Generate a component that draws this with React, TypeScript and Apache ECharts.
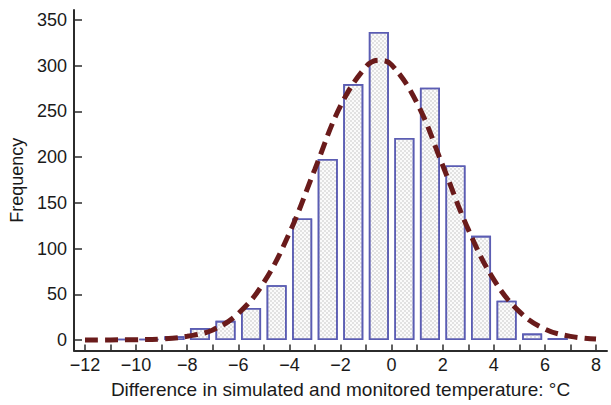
import React, { useEffect, useRef } from "react";
import * as echarts from "echarts";

// Histogram bins (bin centres, 1 °C wide) and their frequencies
const binCenters = [-10.5, -9.5, -8.5, -7.5, -6.5, -5.5, -4.5, -3.5, -2.5, -1.5, -0.5, 0.5, 1.5, 2.5, 3.5, 4.5, 5.5, 6.5];
const frequencies = [1, 1, 4, 13, 21, 35, 60, 133, 198, 280, 337, 221, 276, 191, 114, 43, 7, 2];

// Fitted curve, values
const curveX = [-12, -11, -10, -9, -8, -7, -6, -5, -4, -3, -2, -1, -0.5, 0, 1, 2, 3, 4, 5, 6, 7, 8];
const curveY = [0, 0.1, 0.3, 1, 4, 11, 29, 63, 117, 187, 256, 299, 306, 301, 259, 191, 121, 66, 31, 12, 4, 1];

const xTicks = [-12, -11, -10, -9, -8, -7, -6, -5, -4, -3, -2, -1, 0, 1, 2, 3, 4, 5, 6, 7, 8];
const xLabels = [-12, -10, -8, -6, -4, -2, 0, 2, 4, 6, 8];
const yTicks = [0, 50, 100, 150, 200, 250, 300, 350];

const xTitle = "Difference in simulated and monitored temperature: °C";
const yTitle = "Frequency";

const FONT = "'Liberation Sans', Arial, sans-serif";
const AXIS = "#2b2b2b";
const TEXT = "#1a1a1a";

export default function App() {
  const ref = useRef<HTMLDivElement>(null);
  useEffect(() => {
    if (!ref.current) return;
    const chart = echarts.init(ref.current, undefined, { renderer: "svg" });
    chart.setOption({
      animation: false,
      backgroundColor: "#ffffff",
      grid: { left: 74, right: 4, top: 10, bottom: 54.5, containLabel: false },
      xAxis: {
        type: "value",
        min: -12.43,
        max: 8.43,
        name: xTitle,
        nameLocation: "middle",
        nameGap: 29,
        nameTextStyle: { fontSize: 19, color: TEXT, fontFamily: FONT },
        axisLine: { onZero: false, lineStyle: { color: AXIS, width: 2 } },
        axisTick: { inside: true, length: 6, customValues: xTicks, lineStyle: { color: AXIS, width: 1.5 } },
        axisLabel: {
          customValues: xLabels,
          fontSize: 18,
          color: TEXT,
          fontFamily: FONT,
          margin: 5,
          formatter: (v: number) => (v < 0 ? "\u2212" + Math.abs(v) : String(v)),
        },
        splitLine: { show: false },
      },
      yAxis: {
        type: "value",
        min: -11.5,
        max: 361,
        name: yTitle,
        nameLocation: "middle",
        nameGap: 45,
        nameRotate: 90,
        nameTextStyle: { fontSize: 18, color: TEXT, fontFamily: FONT },
        axisLine: { show: true, onZero: false, lineStyle: { color: AXIS, width: 2 } },
        axisTick: { show: true, inside: true, length: 8, customValues: yTicks, lineStyle: { color: AXIS, width: 1.5 } },
        axisLabel: { customValues: yTicks, fontSize: 18, color: TEXT, fontFamily: FONT, margin: 7 },
        splitLine: { show: false },
      },
      series: [
        {
          type: "bar",
          data: binCenters.map((c, i) => [c, frequencies[i]]),
          barWidth: 20,
          itemStyle: {
            color: "#fbfbfb",
            borderColor: "#5b5db3",
            borderWidth: 1.6,
            decal: {
              symbol: "rect",
              symbolSize: 0.6,
              color: "#a8a8a8",
              dashArrayX: [[2, 2], [0, 2, 2, 0]],
              dashArrayY: [2, 0],
              rotation: 0,
            },
          },
          z: 2,
        },
        {
          type: "line",
          data: curveX.map((x, i) => [x, curveY[i]]),
          smooth: 0.4,
          symbol: "none",
          lineStyle: { color: "#6a1b1b", width: 5, type: [13, 7], cap: "butt" },
          z: 3,
        },
      ],
    });
    return () => chart.dispose();
  }, []);
  return (
    <div
      ref={ref}
      style={{ position: "absolute", left: 0, top: 0, width: 611, height: 405, background: "#fff" }}
    />
  );
}
